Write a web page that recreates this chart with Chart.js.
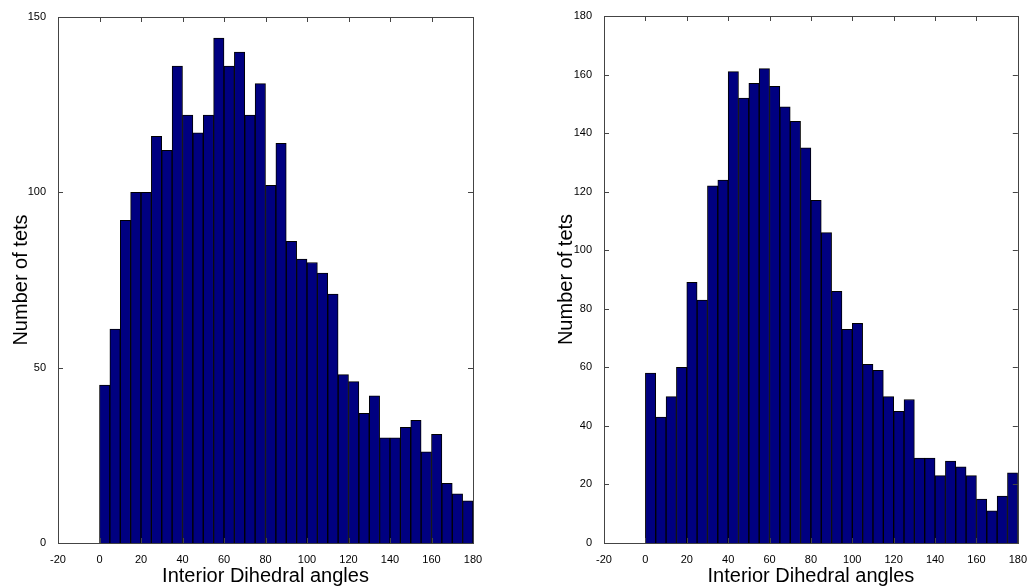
<!DOCTYPE html>
<html>
<head>
<meta charset="utf-8">
<script src="https://cdn.jsdelivr.net/npm/chart.js@4/dist/chart.umd.min.js"></script>
<style>
  body { margin: 0; background: #fff; }
  .box { position: absolute; top: 0; height: 588px; }
</style>
</head>
<body>
<div class="box" style="left:0;width:490px"><canvas id="chartLeft"></canvas></div>
<div class="box" style="left:545px;width:484px"><canvas id="chartRight"></canvas></div>
<script>
// bin centres (degrees), 5 degree bins from 0 to 180
const binCenters = [2.5, 7.5, 12.5, 17.5, 22.5, 27.5, 32.5, 37.5, 42.5, 47.5, 52.5, 57.5,
  62.5, 67.5, 72.5, 77.5, 82.5, 87.5, 92.5, 97.5, 102.5, 107.5, 112.5, 117.5,
  122.5, 127.5, 132.5, 137.5, 142.5, 147.5, 152.5, 157.5, 162.5, 167.5, 172.5, 177.5];

const countsLeft = [45, 61, 92, 100, 100, 116, 112, 136, 122, 117, 122, 144,
  136, 140, 122, 131, 102, 114, 86, 81, 80, 77, 71, 48,
  46, 37, 42, 30, 30, 33, 35, 26, 31, 17, 14, 12];

const countsRight = [58, 43, 50, 60, 89, 83, 122, 124, 161, 152, 157, 162,
  156, 149, 144, 135, 117, 106, 86, 73, 75, 61, 59, 50,
  45, 49, 29, 29, 23, 28, 26, 23, 15, 11, 16, 24];

const xTicks = [-20, 0, 20, 40, 60, 80, 100, 120, 140, 160, 180];
const yTicksLeft = [0, 50, 100, 150];
const yTicksRight = [0, 20, 40, 60, 80, 100, 120, 140, 160, 180];

const xLabel = 'Interior Dihedral angles';
const yLabel = 'Number of tets';

// box around the axes and inward tick marks, matlab style
const axesBox = {
  id: 'axesBox',
  afterDraw(chart) {
    const ctx = chart.ctx;
    const a = chart.chartArea;
    const sx = chart.scales.x, sy = chart.scales.y;
    ctx.save();
    ctx.strokeStyle = '#444';
    ctx.lineWidth = 1;
    ctx.beginPath();
    sx.ticks.forEach(t => {
      let px = Math.round(sx.getPixelForValue(t.value)) + 0.5;
      ctx.moveTo(px, a.bottom); ctx.lineTo(px, a.bottom - 5);
      ctx.moveTo(px, a.top); ctx.lineTo(px, a.top + 5);
    });
    sy.ticks.forEach(t => {
      let py = Math.round(sy.getPixelForValue(t.value)) + 0.5;
      ctx.moveTo(a.left, py); ctx.lineTo(a.left + 5, py);
      ctx.moveTo(a.right, py); ctx.lineTo(a.right - 5, py);
    });
    ctx.stroke();
    ctx.strokeRect(Math.round(a.left) + 0.5, Math.round(a.top) + 0.5,
      Math.round(a.right - a.left), Math.round(a.bottom - a.top));
    ctx.restore();
  }
};

function makeChart(id, counts, yTicks, yMax, axisW, padRight, padTop) {
  const ctx = document.getElementById(id);
  new Chart(ctx, {
    type: 'bar',
    data: {
      datasets: [{
        data: binCenters.map((c, i) => ({ x: c, y: counts[i] })),
        backgroundColor: '#000080',
        borderColor: '#000000',
        borderWidth: 1,
        barPercentage: 1,
        categoryPercentage: 1
      }]
    },
    options: {
      responsive: true,
      maintainAspectRatio: false,
      animation: false,
      layout: { padding: { left: 0, right: padRight, top: padTop, bottom: 0 } },
      plugins: { legend: { display: false }, tooltip: { enabled: false } },
      scales: {
        x: {
          type: 'linear',
          offset: false,
          min: xTicks[0],
          max: xTicks[xTicks.length - 1],
          afterBuildTicks: s => { s.ticks = xTicks.map(v => ({ value: v })); },
          afterFit: s => { s.height = 45; },
          grid: { display: false, offset: false },
          border: { display: false },
          ticks: {
            color: '#000',
            padding: 2,
            maxRotation: 0,
            autoSkip: false,
            font: { family: 'Liberation Sans, Arial', size: 11 }
          },
          title: {
            display: true,
            text: xLabel,
            color: '#000',
            padding: 0,
            font: { family: 'Liberation Sans, Arial', size: 20 }
          }
        },
        y: {
          min: 0,
          max: yMax,
          afterBuildTicks: s => { s.ticks = yTicks.map(v => ({ value: v })); },
          afterFit: s => { s.width = axisW; },
          grid: { display: false },
          border: { display: false },
          ticks: {
            color: '#000',
            padding: 4,
            autoSkip: false,
            font: { family: 'Liberation Sans, Arial', size: 11 }
          },
          title: {
            display: true,
            text: yLabel,
            color: '#000',
            padding: { top: 9, bottom: 0 },
            font: { family: 'Liberation Sans, Arial', size: 20 }
          }
        }
      }
    },
    plugins: [axesBox]
  });
}

makeChart('chartLeft', countsLeft, yTicksLeft, 150, 58, 17, 17);
makeChart('chartRight', countsRight, yTicksRight, 180, 59, 11, 16);
</script>
</body>
</html>
